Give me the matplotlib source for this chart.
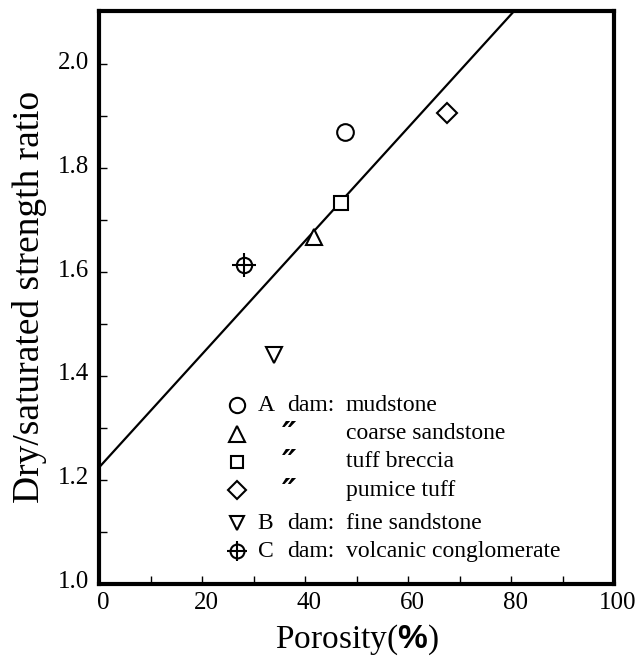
import matplotlib
matplotlib.use("Agg")
import matplotlib.pyplot as plt
import matplotlib.transforms as mtransforms
import numpy as np

plt.rcParams['font.family'] = ['Liberation Serif', 'DejaVu Serif']
plt.rcParams['mathtext.fontset'] = 'custom'
plt.rcParams['mathtext.rm'] = 'Liberation Serif'
plt.rcParams['mathtext.bf'] = 'Liberation Sans:bold'

# data
porosity = [47.7, 41.8, 46.9, 67.5, 34.0, 28.2]
ratio = [1.869, 1.668, 1.734, 1.907, 1.440, 1.614]
markers = ['o', '^', 's', 'D', 'v', 'o']
msizes = [12, 12, 10, 10, 11, 11]

# regression line
intercept = 1.2235
slope = 0.01091

# legend rows
leg_site = ['A', '', '', '', 'B', 'C']
leg_dam = ['dam:', '″', '″', '″', 'dam:', 'dam:']
leg_rock = ['mudstone', 'coarse sandstone', 'tuff breccia', 'pumice tuff',
            'fine sandstone', 'volcanic conglomerate']
leg_y = [1.343, 1.289, 1.235, 1.180, 1.116, 1.062]

fig = plt.figure(figsize=(6.38, 6.57), dpi=100)
ax = fig.add_axes([99 / 638, 1 - 583.5 / 657, 515 / 638, 573 / 657])

xl = np.array([0, 100])
ax.plot(xl, intercept + slope * xl, color='black', lw=1.6, zorder=1)

for i in range(len(porosity)):
    ax.plot(porosity[i], ratio[i], marker=markers[i], ms=msizes[i], mfc='white',
            mec='black', mew=1.5, ls='none', zorder=3)
# cross for the C dam symbol
ax.plot(porosity[5], ratio[5], marker='+', ms=17, mec='black', mew=1.5, zorder=4)

# legend drawn by hand
for i in range(len(leg_rock)):
    y = leg_y[i]
    ax.plot(26.8, y, marker=markers[i], ms=msizes[i] - 1, mfc='white', mec='black',
            mew=1.5, ls='none', clip_on=False)
    if i == 5:
        ax.plot(26.8, y, marker='+', ms=15, mec='black', mew=1.5)
    ax.text(30.8, y, leg_site[i], fontsize=17, va='center', ha='left')
    if leg_dam[i] == '″':
        ax.text(35.6, y - 0.004, leg_dam[i], fontsize=23, va='center', ha='left',
                style='italic', weight='bold', family=['DejaVu Sans'])
    else:
        ax.text(36.5, y, leg_dam[i], fontsize=17, va='center', ha='left')
    ax.text(47.9, y, leg_rock[i], fontsize=17, va='center', ha='left')

ax.set_xlim(0, 100)
ax.set_ylim(1.0, 2.104)
ax.set_xticks([0, 20, 40, 60, 80, 100])
ax.set_xticks(np.arange(10, 100, 10), minor=True)
ax.set_yticks([1.0, 1.2, 1.4, 1.6, 1.8, 2.0])
ax.set_yticks(np.arange(1.1, 2.05, 0.2), minor=True)
ax.set_yticklabels(['1.0', '1.2', '1.4', '1.6', '1.8', '2.0'])

ax.tick_params(which='both', direction='in', length=6, width=1.0,
               labelsize=18, top=False, right=False)
ax.tick_params(axis='x', pad=6)
ax.tick_params(axis='y', pad=7)
for s in ax.spines.values():
    s.set_linewidth(3)

# labels in the original sit a little off their ticks
up = mtransforms.ScaledTranslation(0, 0.04, fig.dpi_scale_trans)
for lab in ax.get_yticklabels():
    lab.set_transform(lab.get_transform() + up)
right = mtransforms.ScaledTranslation(0.04, 0, fig.dpi_scale_trans)
for lab in ax.get_xticklabels():
    lab.set_transform(lab.get_transform() + right)

ax.set_xlabel(r'Porosity($\mathbf{\%}$)', fontsize=24, labelpad=6)
ax.set_ylabel('Dry/saturated strength ratio', fontsize=27, labelpad=8)

fig.savefig('out.png', dpi=100)
